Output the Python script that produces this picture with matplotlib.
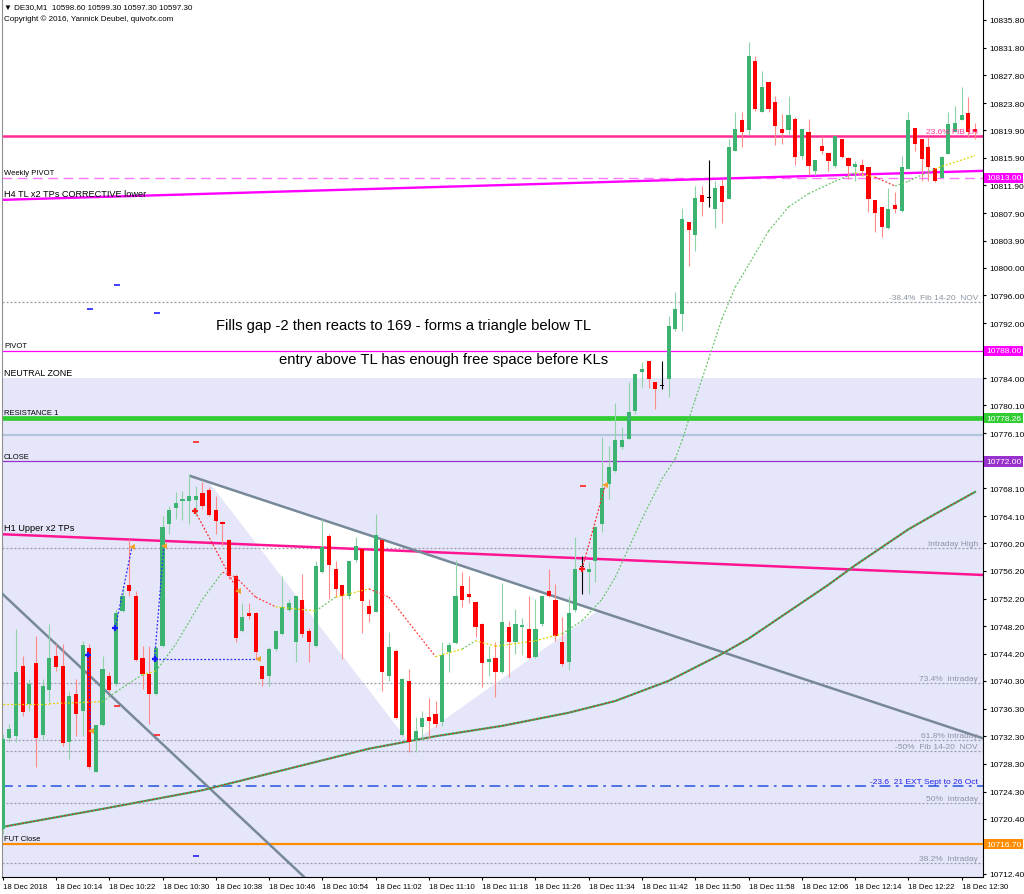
import numpy as np
import matplotlib.pyplot as plt
from matplotlib.collections import LineCollection
from matplotlib.patches import Polygon

plt.rcParams['font.family'] = ['Liberation Sans', 'DejaVu Sans']

# DE30 M1 bars, bar n = 18 Dec 10:06 + n minutes
opens = [
    10718.9, 10732.0, 10732.3, 10742.4, 10737.0, 10742.9, 10732.5, 10739.0, 10743.9, 10742.4,
    10731.5, 10738.4, 10735.9, 10745.0, 10727.1, 10733.9, 10741.0, 10739.8, 10750.4, 10754.1,
    10752.6, 10743.6, 10741.3, 10738.4, 10745.3, 10763.0, 10765.3, 10766.3, 10766.3, 10766.4,
    10767.4, 10767.9, 10765.0, 10763.3, 10760.7, 10755.4, 10747.5, 10750.1, 10750.1, 10742.4,
    10741.0, 10744.9, 10747.1, 10750.5, 10745.9, 10752.0, 10747.5, 10745.3, 10756.0, 10761.2,
    10756.5, 10754.1, 10752.6, 10757.8, 10759.4, 10751.1, 10750.2, 10760.7, 10741.0, 10744.6,
    10732.5, 10740.3, 10731.7, 10733.6, 10735.1, 10735.5, 10734.3, 10744.5, 10745.8, 10754.0,
    10752.8, 10751.7, 10748.5, 10743.0, 10743.6, 10741.6, 10748.1, 10745.9, 10748.1, 10747.8,
    10743.7, 10748.5, 10753.3, 10752.0, 10745.9, 10743.0, 10750.5, 10756.8, 10756.0, 10757.6,
    10763.0, 10768.7, 10770.6, 10774.1, 10775.2, 10779.3, 10784.9, 10786.5, 10783.5, 10782.9,
    10783.9, 10791.1, 10793.3, 10806.6, 10804.7, 10810.5, 10810.1, 10808.5, 10811.8, 10809.9,
    10816.9, 10821.3, 10819.9, 10829.9, 10822.5, 10826.8, 10823.9, 10820.0, 10819.9, 10821.5,
    10816.2, 10819.6, 10814.0, 10817.6, 10816.6, 10814.7, 10818.6, 10815.9, 10814.6, 10814.8,
    10814.6, 10809.8, 10808.8, 10805.7, 10809.1, 10808.2, 10814.3, 10820.2, 10818.6, 10817.4,
    10814.4, 10813.0, 10816.4, 10819.6, 10821.3, 10822.4, 10820.0,
]
highs = [
    10732.6, 10734.1, 10747.8, 10743.9, 10740.6, 10746.8, 10740.6, 10748.5, 10745.6, 10745.6,
    10738.8, 10740.6, 10746.1, 10745.6, 10733.9, 10743.9, 10741.6, 10750.7, 10754.0, 10760.8,
    10753.3, 10745.3, 10745.3, 10745.3, 10764.1, 10765.6, 10767.6, 10767.7, 10770.0, 10768.5,
    10769.0, 10768.3, 10767.0, 10763.4, 10760.8, 10755.7, 10751.5, 10751.5, 10750.2, 10742.5,
    10745.2, 10747.6, 10755.4, 10752.1, 10752.6, 10755.7, 10747.9, 10757.6, 10763.7, 10761.5,
    10757.6, 10754.1, 10757.6, 10761.1, 10759.5, 10752.1, 10764.4, 10760.8, 10747.3, 10744.9,
    10740.7, 10742.0, 10735.1, 10735.9, 10737.8, 10737.4, 10745.9, 10745.9, 10757.8, 10756.0,
    10755.4, 10751.8, 10748.7, 10745.3, 10745.9, 10754.4, 10748.9, 10750.7, 10749.4, 10752.6,
    10752.1, 10752.7, 10756.5, 10754.3, 10749.5, 10752.6, 10761.1, 10758.3, 10757.5, 10762.7,
    10775.5, 10774.2, 10780.5, 10777.0, 10783.5, 10784.6, 10786.4, 10786.5, 10783.5, 10786.5,
    10793.0, 10796.5, 10808.6, 10806.6, 10811.8, 10811.8, 10815.6, 10812.5, 10812.8, 10818.6,
    10822.5, 10822.5, 10832.6, 10830.6, 10828.4, 10826.8, 10824.8, 10822.2, 10824.8, 10821.8,
    10820.0, 10821.5, 10815.6, 10819.0, 10816.6, 10819.0, 10818.6, 10816.0, 10815.4, 10815.7,
    10814.6, 10809.8, 10808.8, 10811.5, 10810.9, 10816.1, 10822.5, 10820.2, 10818.6, 10818.9,
    10814.4, 10816.1, 10822.5, 10823.4, 10826.1, 10824.7, 10820.9,
]
lows = [
    10718.2, 10731.5, 10731.5, 10735.2, 10735.9, 10727.8, 10731.9, 10737.2, 10741.7, 10730.9,
    10729.0, 10732.3, 10732.3, 10727.6, 10727.1, 10733.8, 10738.7, 10739.6, 10750.2, 10752.6,
    10743.2, 10739.1, 10734.1, 10738.3, 10745.2, 10761.5, 10763.7, 10763.5, 10763.0, 10764.1,
    10765.1, 10764.1, 10761.5, 10759.8, 10755.0, 10745.9, 10747.4, 10749.2, 10743.4, 10739.6,
    10739.6, 10744.6, 10746.9, 10750.4, 10743.0, 10746.6, 10743.0, 10745.2, 10755.9, 10752.1,
    10752.4, 10743.4, 10752.1, 10757.5, 10747.2, 10748.8, 10750.2, 10738.8, 10740.3, 10734.8,
    10732.3, 10730.0, 10730.0, 10731.9, 10731.9, 10733.6, 10733.8, 10741.6, 10745.6, 10751.0,
    10751.5, 10746.6, 10739.4, 10741.0, 10738.0, 10741.4, 10740.9, 10744.2, 10744.0, 10743.4,
    10743.6, 10748.2, 10752.4, 10746.1, 10742.4, 10741.9, 10750.2, 10752.8, 10752.8, 10754.6,
    10761.8, 10766.6, 10770.5, 10773.8, 10775.2, 10778.9, 10782.8, 10782.6, 10779.6, 10782.5,
    10781.3, 10790.9, 10790.9, 10800.2, 10802.4, 10807.5, 10808.8, 10805.7, 10806.5, 10809.9,
    10816.9, 10817.4, 10819.2, 10822.6, 10822.5, 10822.5, 10817.7, 10817.9, 10819.2, 10814.8,
    10815.7, 10813.4, 10813.4, 10816.4, 10814.0, 10814.4, 10815.8, 10812.8, 10812.5, 10813.3,
    10808.1, 10805.2, 10804.4, 10805.6, 10807.9, 10808.1, 10814.3, 10816.9, 10812.5, 10812.5,
    10812.4, 10813.0, 10816.4, 10819.6, 10821.3, 10818.9, 10818.6,
]
closes = [
    10731.9, 10733.3, 10741.6, 10735.8, 10739.8, 10732.0, 10739.6, 10743.6, 10742.3, 10731.3,
    10738.1, 10735.5, 10745.5, 10727.8, 10733.9, 10742.0, 10739.0, 10750.1, 10752.6, 10753.3,
    10743.3, 10741.3, 10738.4, 10745.0, 10762.5, 10765.0, 10766.0, 10766.6, 10767.0, 10767.0,
    10765.6, 10764.3, 10763.4, 10763.0, 10755.4, 10746.5, 10749.5, 10749.7, 10744.5, 10740.6,
    10744.9, 10747.5, 10751.0, 10751.5, 10752.6, 10747.1, 10745.9, 10756.9, 10759.7, 10757.0,
    10753.6, 10752.6, 10757.6, 10759.8, 10751.8, 10750.0, 10761.4, 10741.6, 10745.2, 10734.9,
    10740.6, 10731.5, 10733.0, 10734.9, 10734.5, 10734.1, 10744.0, 10745.5, 10752.6, 10752.0,
    10752.4, 10748.1, 10742.9, 10743.5, 10741.6, 10748.8, 10745.9, 10748.5, 10748.4, 10743.6,
    10747.8, 10752.6, 10752.6, 10746.8, 10742.7, 10750.1, 10756.5, 10756.8, 10756.5, 10762.5,
    10768.2, 10771.2, 10775.1, 10775.1, 10779.2, 10784.6, 10785.4, 10783.9, 10782.5, 10782.9,
    10791.6, 10794.0, 10807.0, 10805.5, 10810.1, 10809.5, 10810.1, 10811.5, 10809.5, 10817.4,
    10820.0, 10819.6, 10830.6, 10822.9, 10826.1, 10822.9, 10820.5, 10819.5, 10822.1, 10816.0,
    10820.0, 10814.7, 10815.6, 10816.9, 10815.4, 10819.0, 10816.0, 10814.7, 10815.0, 10814.0,
    10809.9, 10807.9, 10805.9, 10808.5, 10808.5, 10814.6, 10821.3, 10817.9, 10815.7, 10814.6,
    10812.5, 10816.0, 10820.8, 10820.9, 10822.1, 10819.6, 10819.6,
]

# fast colour-coded MA, read at some bars
fast_ma_bar = [0, 7, 15, 17, 21, 23, 26, 30, 33, 35, 38, 41, 47, 50, 55, 58, 65, 69, 71, 74,
               80, 84, 87, 90, 92, 96, 99, 101, 102, 104, 106, 108, 110, 112, 115, 118, 121,
               125, 128, 131, 134, 136, 140, 146]
fast_ma = [10737.0, 10737.0, 10737.3, 10738.7, 10741.2, 10741.7, 10745.6, 10752.1, 10756.0,
           10755.3, 10752.4, 10751.0, 10750.4, 10752.4, 10753.6, 10752.4, 10743.8, 10744.9,
           10746.1, 10745.3, 10746.1, 10747.1, 10749.0, 10752.1, 10755.3, 10763.7, 10769.5,
           10772.4, 10775.0, 10781.0, 10786.8, 10792.6, 10797.2, 10800.4, 10805.3, 10808.8,
           10810.7, 10812.5, 10813.7, 10813.1, 10811.8, 10812.5, 10814.3, 10816.2]

# slow MA
slow_ma_bar = [0, 15, 30, 45, 55, 65, 75, 85, 92, 100, 108, 112, 116, 120, 124, 128, 132, 136, 140, 146]
slow_ma = [10719.2, 10721.8, 10724.5, 10728.1, 10730.5, 10732.3, 10733.8, 10735.7, 10737.4,
           10740.3, 10744.2, 10746.4, 10749.0, 10751.6, 10754.2, 10757.0, 10759.6, 10762.2,
           10764.4, 10767.6]

# key levels
fib_1h = 10819.0
weekly_pivot = 10813.0
fib_384_nov = 10795.05
pivot = 10788.0
neutral_top = 10784.0
resistance_1 = 10778.26
blue_level = 10775.8
close_level = 10772.0
intraday_high = 10759.5
intraday_734 = 10740.0
intraday_618 = 10731.75
fib_50_nov = 10730.16
ext_236 = 10725.1
intraday_50 = 10722.64
fut_close = 10716.7
intraday_382 = 10714.0

# trend lines (bar, price)
h4_tl_bar, h4_tl = [-0.3, 147.3], [10809.8, 10814.0]
h1_up_bar, h1_up = [-0.3, 147.3], [10761.5, 10755.6]
tl_bar, tl = [28.2, 147.2], [10769.9, 10732.0]
tl2_bar, tl2 = [-0.3, 46.0], [10753.1, 10711.3]
tri_bar, tri = [31.0, 61.2, 89.3], [10769.0, 10731.2, 10750.4]

# trade history
buy_in_bar, buy_in = [12.8, 16.9, 22.8, 22.8], [10744.0, 10747.9, 10743.4, 10743.4]
buy_out_bar, buy_out = [13.2, 19.4, 24.2, 38.3], [10733.1, 10759.6, 10759.8, 10743.4]
sell_in_bar, sell_in = [28.9, 87.0], [10764.8, 10756.5]
sell_out_bar, sell_out = [35.3, 90.5], [10753.3, 10768.6]
sl_bar, sl = [29.1, 87.2, 17.1, 23.2], [10774.8, 10768.5, 10736.7, 10732.5]
tp_bar, tp = [17.1, 13.1, 23.1, 29.1], [10797.5, 10794.0, 10793.4, 10715.0]

ytick_vals = [10835.80, 10831.80, 10827.80, 10823.80, 10819.90, 10815.90, 10811.90, 10807.90,
              10803.90, 10800.00, 10796.00, 10792.00, 10788.00, 10784.00, 10780.10, 10776.10,
              10772.10, 10768.10, 10764.10, 10760.20, 10756.20, 10752.20, 10748.20, 10744.20,
              10740.30, 10736.30, 10732.30, 10728.30, 10724.30, 10720.40, 10716.40, 10712.40]
hidden_ticks = [10788.00, 10772.10, 10716.40]   # covered by the price boxes
xtick_bar = list(range(0, 145, 8))
xtick_labels = ['18 Dec 2018', '18 Dec 10:14', '18 Dec 10:22', '18 Dec 10:30', '18 Dec 10:38',
                '18 Dec 10:46', '18 Dec 10:54', '18 Dec 11:02', '18 Dec 11:10', '18 Dec 11:18',
                '18 Dec 11:26', '18 Dec 11:34', '18 Dec 11:42', '18 Dec 11:50', '18 Dec 11:58',
                '18 Dec 12:06', '18 Dec 12:14', '18 Dec 12:22', '18 Dec 12:30']

GRAY = '#8a93a3'

fig = plt.figure(figsize=(10.24, 8.95), dpi=100)
ax = fig.add_axes([2 / 1024, 17 / 895, 981 / 1024, 878 / 895])
ax.set_xlim(-0.1, 147.2)
ax.set_ylim(10711.96, 10838.83)
yt = ax.get_yaxis_transform()

# neutral zone + triangle
ax.axhspan(10700, neutral_top, color='#e6e6fa', lw=0, zorder=0)
ax.add_patch(Polygon(np.column_stack([tri_bar, tri]), closed=True, fc='white', ec='none', zorder=1))

# dotted fib / intraday levels
for lv in [fib_384_nov, intraday_high, intraday_734, intraday_618, fib_50_nov, intraday_50, intraday_382]:
    ax.axhline(lv, color='#9a9aab', lw=0.9, ls=(0, (1.6, 1.6)), zorder=2)

ax.axhline(fib_1h, color='#ff2a93', lw=1.8, zorder=2)
ax.axhline(weekly_pivot, color='#ff77ff', lw=1.0, ls=(0, (7, 4)), zorder=2)
ax.plot(h4_tl_bar, h4_tl, color='#ff00ff', lw=1.7, zorder=2)
ax.axhline(pivot, color='#ff00ff', lw=0.9, zorder=2)
ax.axhline(resistance_1, color='#32cd32', lw=3.4, zorder=2)
ax.axhline(blue_level, color='#b0c4de', lw=1.6, zorder=2)
ax.axhline(close_level, color='#9932cc', lw=0.9, zorder=2)
ax.plot(h1_up_bar, h1_up, color='#ff1493', lw=1.8, zorder=2)
ax.axhline(ext_236, color='#4169e1', lw=1.3, ls=(0, (6, 3, 1.5, 3)), zorder=2)
ax.axhline(fut_close, color='#ff8c00', lw=1.6, zorder=2)

# trend lines
ax.plot(tl_bar, tl, color='#778899', lw=1.8, zorder=3)
ax.plot(tl2_bar, tl2, color='#778899', lw=1.8, zorder=3)

# slow MA
ax.plot(slow_ma_bar, slow_ma, color='#3cb371', lw=1.6, zorder=3)
ax.plot(slow_ma_bar, slow_ma, color='#d02a1e', lw=0.8, ls=(0, (2, 1.5)), zorder=3)

# candles
t = np.arange(len(opens))
o, h, l, c = map(np.array, (opens, highs, lows, closes))
body_col = np.where(c > o, '#3cb371', np.where(c < o, '#ff0000', '#000000'))
wick_col = np.where(c > o, '#8fd3a9', np.where(c < o, '#ff8a8a', '#000000'))
ax.vlines(t, l, h, colors=wick_col, lw=0.8, zorder=4)
ax.bar(t, np.maximum(np.abs(c - o), 0.13), bottom=np.minimum(o, c), width=0.62,
       color=body_col, lw=0, zorder=5)

# fast MA coloured by slope
pts = np.column_stack([fast_ma_bar, fast_ma])
segs = np.stack([pts[:-1], pts[1:]], axis=1)
slope = np.diff(fast_ma) / np.diff(fast_ma_bar)
seg_col = ['#66c466' if s > 0.35 else '#ff3b3b' if s < -0.35 else '#e0d400' for s in slope]
ax.add_collection(LineCollection(segs, colors=seg_col, linewidths=0.9,
                                 linestyles=(0, (1.5, 1.5)), zorder=6))

# trades
for x0, y0, x1, y1 in zip(buy_in_bar, buy_in, buy_out_bar, buy_out):
    ax.plot([x0, x1], [y0, y1], color='#2a2aff', lw=0.9, ls=(0, (1.5, 1.5)), zorder=7)
for x0, y0, x1, y1 in zip(sell_in_bar, sell_in, sell_out_bar, sell_out):
    ax.plot([x0, x1], [y0, y1], color='#ff2a2a', lw=0.9, ls=(0, (1.5, 1.5)), zorder=7)
ax.plot(buy_in_bar, buy_in, '+', color='#1a1aff', ms=5, mew=1.6, zorder=8)
ax.plot(sell_in_bar, sell_in, '+', color='#ff1a1a', ms=5, mew=1.6, zorder=8)
ax.plot(buy_out_bar + sell_out_bar, buy_out + sell_out, '<', color='#f0a030', ms=4, mew=0, zorder=8)
ax.plot(sl_bar, sl, '_', color='#ff2020', ms=5, mew=1.2, zorder=8)
ax.plot(tp_bar, tp, '_', color='#2020ff', ms=5, mew=1.2, zorder=8)

# left labels
for lv, txt, fs in [(weekly_pivot, 'Weekly PIVOT', 5.5),
                    (h4_tl[0], 'H4 TL x2 TPs CORRECTIVE lower', 6.6),
                    (pivot, 'PIVOT', 5.5),
                    (neutral_top, 'NEUTRAL ZONE', 6.4),
                    (resistance_1, 'RESISTANCE 1', 5.5),
                    (close_level, 'CLOSE', 5.5),
                    (h1_up[0], 'H1 Upper x2 TPs', 6.6),
                    (fut_close, 'FUT Close', 5.5)]:
    ax.text(0.002, lv + 0.25, txt, transform=yt, ha='left', va='bottom', fontsize=fs, zorder=9)

# right labels
for lv, txt, col in [(fib_1h, '23.6% FIB 1H', '#ff3399'),
                     (fib_384_nov, '-38.4%  Fib 14-20  NOV', GRAY),
                     (intraday_high, 'Intraday High', GRAY),
                     (intraday_734, '73.4%  Intraday', GRAY),
                     (intraday_618, '61.8% Intraday', GRAY),
                     (fib_50_nov, '-50%  Fib 14-20  NOV', GRAY),
                     (ext_236, '-23.6  21 EXT Sept to 26 Oct', '#2222ee'),
                     (intraday_50, '50%  Intraday', GRAY),
                     (intraday_382, '38.2%  Intraday', GRAY)]:
    ax.text(0.995, lv + 0.15, txt, transform=yt, ha='right', va='bottom', fontsize=6, color=col, zorder=9)

# annotations
ax.text(60.2, 10791.7, 'Fills gap -2 then reacts to 169 - forms a triangle below TL',
        ha='center', va='center', fontsize=10.6, zorder=9)
ax.text(66.2, 10786.8, 'entry above TL has enough free space before KLs',
        ha='center', va='center', fontsize=10.6, zorder=9)

# axes styling
ax.spines['top'].set_visible(False)
ax.spines['left'].set_color('#909090')
ax.spines['right'].set_color('black')
ax.spines['bottom'].set_color('black')
ax.yaxis.tick_right()
ax.set_yticks(ytick_vals)
ax.set_yticklabels(['' if v in hidden_ticks else f'{v:.2f}' for v in ytick_vals])
ax.tick_params(axis='y', labelsize=6, length=2.5, pad=2, width=0.8)
ax.set_xticks(xtick_bar)
ax.set_xticklabels(xtick_labels)
ax.tick_params(axis='x', labelsize=5.6, length=2.5, pad=1.5, width=0.8)
for lbl in ax.get_xticklabels():
    lbl.set_horizontalalignment('left')

# price boxes on the right scale
for lv, col in [(weekly_pivot, '#ff00ff'), (pivot, '#ff00ff'), (resistance_1, '#32cd32'),
                (close_level, '#9932cc'), (fut_close, '#ff8c00')]:
    ax.text(1.003, lv, f'{lv:.2f}', transform=yt, ha='left', va='center', fontsize=6,
            color='white', zorder=10, clip_on=False,
            bbox=dict(facecolor=col, edgecolor='none', pad=1.2))

# header
fig.text(4 / 1024, 1 - 8 / 895, '\u25bc DE30,M1  10598.60 10599.30 10597.30 10597.30',
         fontsize=5.8, va='center', ha='left')
fig.text(4 / 1024, 1 - 19 / 895, 'Copyright \u00a9 2016, Yannick Deubel, quivofx.com',
         fontsize=5.8, va='center', ha='left')

fig.savefig('out.png', dpi=100)
